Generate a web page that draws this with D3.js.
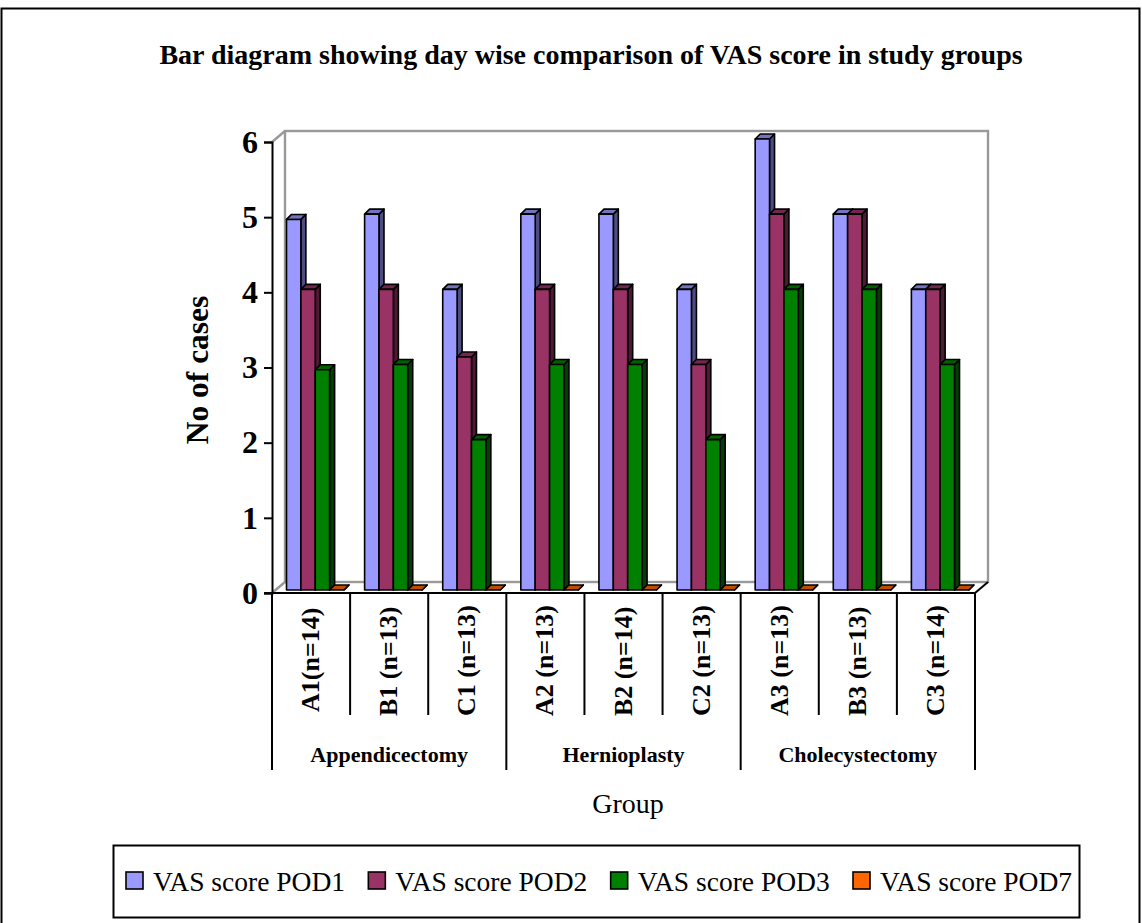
<!DOCTYPE html>
<html>
<head>
<meta charset="utf-8">
<script src="https://cdn.jsdelivr.net/npm/d3@7"></script>
<style>
    body { margin: 0; background: white; }
    text { font-family: "Liberation Serif", serif; fill: black; }
</style>
</head>
<body>
<div id="chart"></div>
<script>
let categories = ["A1(n=14)", "B1 (n=13)", "C1 (n=13)", "A2 (n=13)", "B2 (n=14)", "C2 (n=13)", "A3 (n=13)", "B3 (n=13)", "C3 (n=14)"]
let groups = ["Appendicectomy", "Hernioplasty", "Cholecystectomy"]
let seriesNames = ["VAS score POD1", "VAS score POD2", "VAS score POD3", "VAS score POD7"]
let pod1 = [4.93, 5, 4, 5, 5, 4, 6, 5, 4]
let pod2 = [4, 4, 3.1, 4, 4, 3, 5, 5, 4]
let pod3 = [2.93, 3, 2, 3, 3, 2, 4, 4, 3]
let pod7 = [0, 0, 0, 0, 0, 0, 0, 0, 0]
let seriesValues = [pod1, pod2, pod3, pod7]
let frontColors = ["#9999ff", "#993366", "#008000", "#ff6600"]
let topColors = ["#7373bf", "#732650", "#006000", "#bf4d00"]
let sideColors = ["#4d4d80", "#4d1a33", "#004000", "#803300"]

let svg = d3.select("#chart").append("svg")
    .attr("width", 1142)
    .attr("height", 923)
    .style("display", "block")

// outer frame
svg.append("rect").attr("x", 1.5).attr("y", 8.5).attr("width", 1138).attr("height", 930)
    .attr("fill", "none").attr("stroke", "black").attr("stroke-width", 2)

svg.append("text").text("Bar diagram showing day wise comparison of VAS score in study groups")
    .attr("x", 591).attr("y", 64).attr("text-anchor", "middle")
    .attr("font-size", 28).attr("font-weight", "bold")

// scales
let x = d3.scaleBand().domain(categories).range([272, 975])
let y = d3.scaleLinear().domain([0, 6]).range([593, 142])
let inner = d3.scaleBand().domain(seriesNames).range([14.5, 72])

let wallDx = 13, wallDy = 11
let barDx = 5, barDy = 5, baseLift = 3

// back wall
let wall = svg.append("g").attr("fill", "none").attr("stroke", "#999999").attr("stroke-width", 2.4)
wall.append("rect")
    .attr("x", 272 + wallDx).attr("y", y(6) - wallDy)
    .attr("width", 703).attr("height", y(0) - y(6))
wall.append("line").attr("x1", 272).attr("y1", y(6)).attr("x2", 272 + wallDx).attr("y2", y(6) - wallDy)
wall.append("line").attr("x1", 272).attr("y1", y(0)).attr("x2", 272 + wallDx).attr("y2", y(0) - wallDy)

// bars, left to right so each one covers the side of the one before
let barLayer = svg.append("g").attr("stroke", "black").attr("stroke-width", 1.6).attr("stroke-linejoin", "round")
categories.forEach((cat, i) => {
    seriesNames.forEach((name, s) => {
        let v = seriesValues[s][i]
        let x0 = x(cat) + inner(name)
        let x1 = x0 + inner.bandwidth()
        let yTop = y(v) - baseLift
        let yBase = y(0) - baseLift
        barLayer.append("polygon")
            .attr("points", [[x1, yTop], [x1 + barDx, yTop - barDy], [x1 + barDx, yBase - barDy], [x1, yBase]].join(" "))
            .attr("fill", sideColors[s])
        barLayer.append("polygon")
            .attr("points", [[x0, yTop], [x0 + barDx, yTop - barDy], [x1 + barDx, yTop - barDy], [x1, yTop]].join(" "))
            .attr("fill", topColors[s])
        if (v > 0) {
            barLayer.append("rect")
                .attr("x", x0).attr("y", yTop)
                .attr("width", inner.bandwidth()).attr("height", yBase - yTop)
                .attr("fill", frontColors[s])
        }
    })
})

// y axis
let yAxis = d3.axisLeft(y).tickValues([0, 1, 2, 3, 4, 5, 6]).tickFormat(d3.format("d")).tickSize(8).tickPadding(6)
let yG = svg.append("g").attr("transform", "translate(272,0)").call(yAxis)
yG.selectAll("path, line").attr("stroke", "black").attr("stroke-width", 2)
yG.selectAll("text").attr("font-size", 32).attr("font-weight", "bold")
    .attr("font-family", "Liberation Serif").attr("fill", "black")

// floor front edge and right corner
let axisLines = svg.append("g").attr("stroke", "black").attr("stroke-width", 2)
axisLines.append("line").attr("x1", 264).attr("y1", y(0)).attr("x2", 975).attr("y2", y(0))
axisLines.append("line").attr("x1", 975).attr("y1", y(0)).attr("x2", 975 + wallDx).attr("y2", y(0) - wallDy)

// category separators and labels
categories.forEach((cat, i) => {
    let isGroupEdge = i % 3 === 0
    axisLines.append("line")
        .attr("x1", x(cat)).attr("x2", x(cat))
        .attr("y1", y(0)).attr("y2", isGroupEdge ? 770 : 715)
    svg.append("text").text(cat)
        .attr("transform", `translate(${x(cat) + x.bandwidth() / 2 + 8},${i === 0 ? 712 : 716}) rotate(-90)`)
        .attr("font-size", 26).attr("font-weight", "bold")
})
axisLines.append("line").attr("x1", 975).attr("x2", 975).attr("y1", y(0)).attr("y2", 770)

// group labels
groups.forEach((g, i) => {
    let first = x(categories[i * 3])
    svg.append("text").text(g)
        .attr("x", first + x.bandwidth() * 1.5).attr("y", 762)
        .attr("text-anchor", "middle")
        .attr("font-size", 22).attr("font-weight", "bold")
})

// axis titles
svg.append("text").text("No of cases")
    .attr("transform", "translate(208,370) rotate(-90)")
    .attr("text-anchor", "middle").attr("font-size", 31.5).attr("font-weight", "bold")
svg.append("text").text("Group")
    .attr("x", 628).attr("y", 813).attr("text-anchor", "middle").attr("font-size", 28)

// legend
svg.append("rect").attr("x", 113.5).attr("y", 845.5).attr("width", 966).attr("height", 72)
    .attr("fill", "white").attr("stroke", "black").attr("stroke-width", 2)
let legendX = d3.scalePoint().domain(seriesNames).range([126, 853])
seriesNames.forEach((name, s) => {
    let lx = legendX(name)
    svg.append("rect").attr("x", lx).attr("y", 872).attr("width", 17).attr("height", 17)
        .attr("fill", frontColors[s]).attr("stroke", "black").attr("stroke-width", 1.6)
    svg.append("text").text(name).attr("x", lx + 27).attr("y", 891).attr("font-size", 27.5)
})
</script>
</body>
</html>
